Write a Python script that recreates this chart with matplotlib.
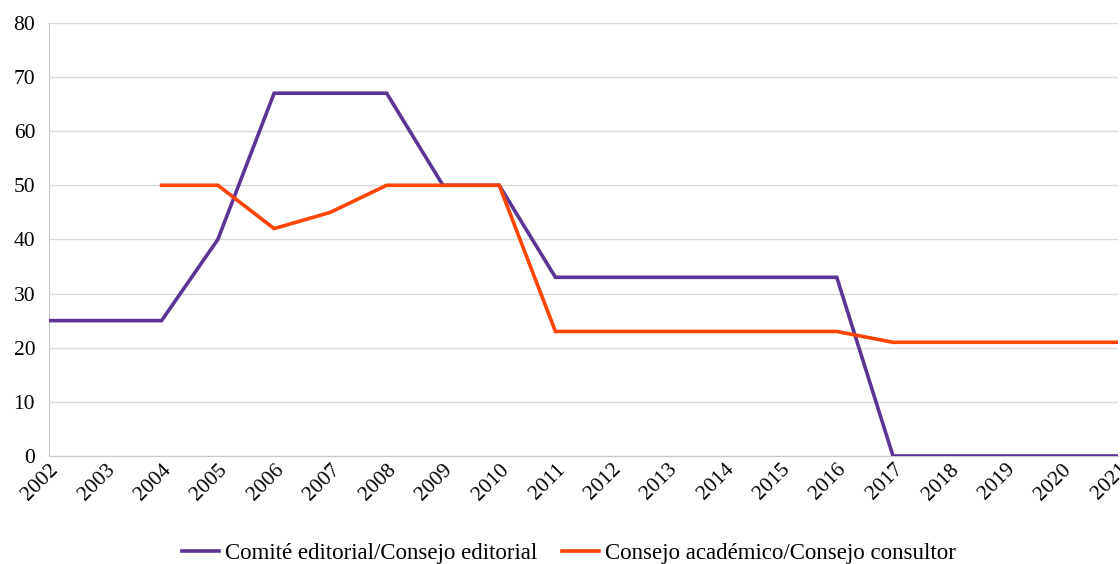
import numpy as np
import matplotlib
matplotlib.use('Agg')
from matplotlib import pyplot as plt

years = list(range(2002, 2022))

# Comité editorial / Consejo editorial
comite = [25, 25, 25, 40, 67, 67, 67, 50, 50, 33, 33, 33, 33, 33, 33, 0, 0, 0, 0, 0]

# Consejo académico / Consejo consultor (starts in 2004)
consejo_years = list(range(2004, 2022))
consejo = [50, 50, 42, 45, 50, 50, 50, 23, 23, 23, 23, 23, 23, 21, 21, 21, 21, 21]

yticks = [0, 10, 20, 30, 40, 50, 60, 70, 80]

tick_font = {'family': ['Liberation Serif'], 'size': 15.5}

fig = plt.figure(figsize=(11.2, 5.64), dpi=100)
ax = fig.add_axes([0.0438, 0.1915, 0.9545, 0.768])

ax.plot(years, comite, color='#5B3495', lw=2.6, label='Comité editorial/Consejo editorial',
        solid_joinstyle='miter', zorder=3)
ax.plot(consejo_years, consejo, color='#FF4500', lw=2.6, label='Consejo académico/Consejo consultor',
        solid_joinstyle='miter', zorder=3)

ax.set_xlim(2002, 2021)
ax.set_ylim(0, 80)
ax.set_yticks(yticks)
ax.set_xticks(years)
ax.set_xticklabels([str(y) for y in years], rotation=45, ha='right', va='top',
                   rotation_mode='anchor', fontdict=tick_font)
ax.set_yticklabels([str(v) for v in yticks], fontdict=tick_font)
ax.tick_params(axis='y', length=0, pad=10)
ax.tick_params(axis='x', length=0, pad=3)

ax.grid(axis='y', color='#D9D9D9', lw=1)
ax.set_axisbelow(True)
for s in ['top', 'right']:
    ax.spines[s].set_visible(False)
ax.spines['left'].set_color('#C8C8C8')
ax.spines['bottom'].set_color('#C8C8C8')

leg = fig.legend(loc='center', bbox_to_anchor=(0.508, 0.018), ncol=2, frameon=False,
                 prop={'family': 'Liberation Serif', 'size': 16.5}, handlelength=1.6,
                 handletextpad=0.25, columnspacing=1.1)

fig.savefig('out.png', dpi=100)
